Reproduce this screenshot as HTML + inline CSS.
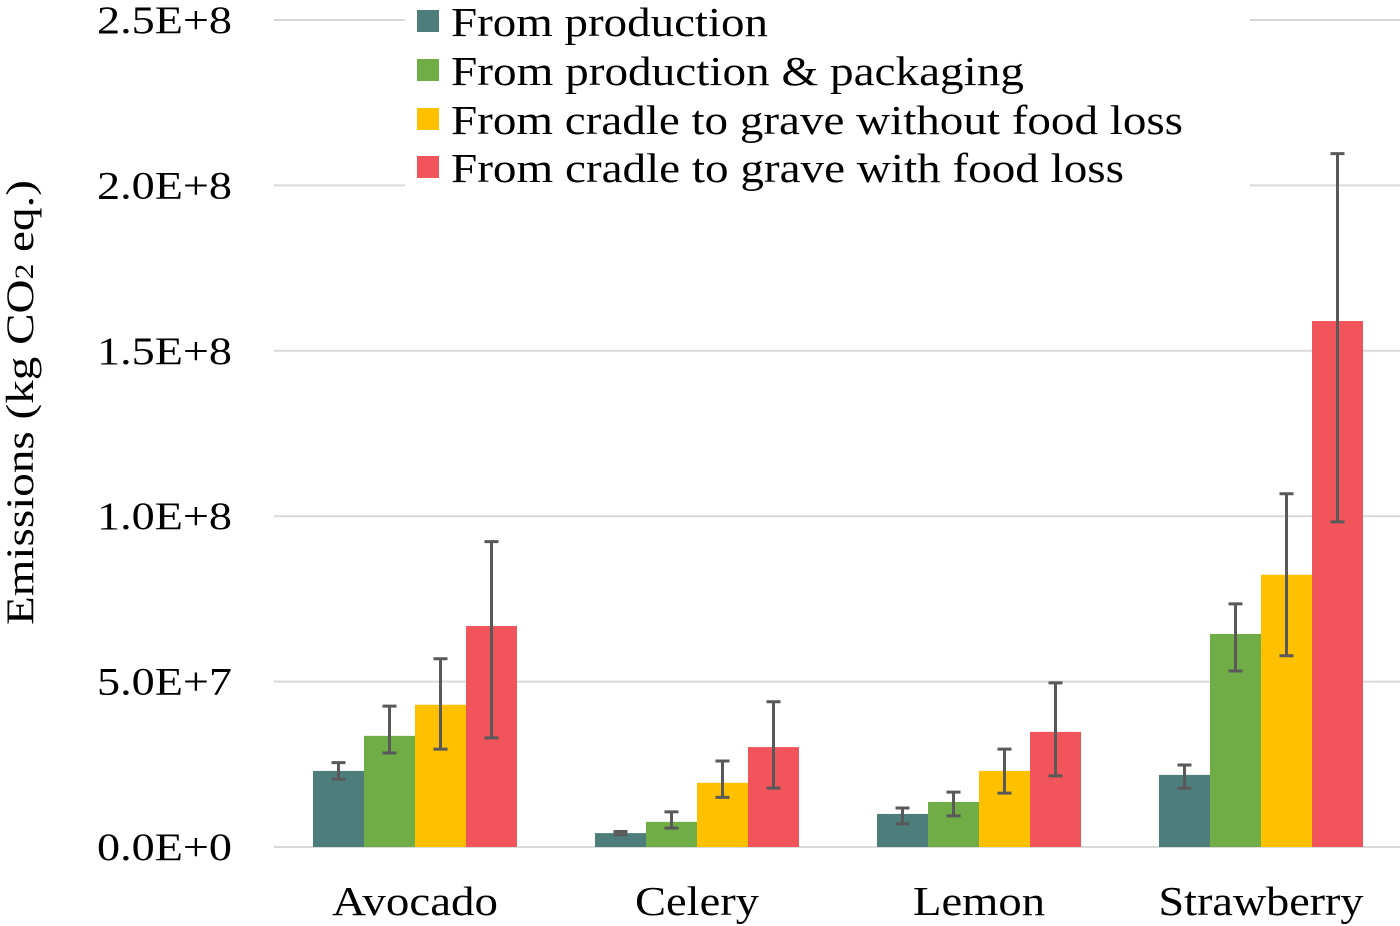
<!DOCTYPE html>
<html><head><meta charset="utf-8"><style>
html,body{margin:0;padding:0;background:#fff;}
svg{display:block;font-family:"Liberation Serif",serif;}
</style></head><body>
<svg id="chart" width="1400" height="926"></svg>
<script>
const categories=["Avocado","Celery","Lemon","Strawberry"];
const seriesNames=["From production","From production & packaging","From cradle to grave without food loss","From cradle to grave with food loss"];
const colors=["#4e7e7c","#70ad47","#ffc000","#f2545b"];
const production=[23,4.2,10,21.8];
const packaging=[33.6,7.6,13.6,64.4];
const noLoss=[43,19.4,23,82.3];
const withLoss=[66.8,30.2,34.8,159];
const errHigh=[[25.5,4.7,11.8,24.8],[42.6,10.6,16.6,73.5],[56.9,26,29.6,106.8],[92.3,43.9,49.6,209.6]];
const errLow=[[20.5,3.7,7,17.8],[28.4,5.7,9.4,53.2],[29.6,15,16.3,57.8],[33,17.8,21.5,98.3]];
const yTicks=[0,50,100,150,200,250];
const yTickLabels=["0.0E+0","5.0E+7","1.0E+8","1.5E+8","2.0E+8","2.5E+8"];
const series=[production,packaging,noLoss,withLoss];
const NS="http://www.w3.org/2000/svg";
const svg=document.getElementById('chart');
const x0=274,catW=282,y0=847,pxPerUnit=(847-20)/250;
const y=v=>y0-v*pxPerUnit;
const xc=i=>x0+catW*(i+0.5);
const bw=51;
const legendW=[317,573,732,673];
const catLabelW=[166,124,132,205];
function mk(t,a,p){const e=document.createElementNS(NS,t);for(const k in a)e.setAttribute(k,a[k]);(p||svg).appendChild(e);return e;}
yTicks.forEach((t,i)=>{
  const g=mk('line',{x1:274,x2:1400,y1:y(t),y2:y(t),stroke:'#d9d9d9','stroke-width':2});
  
  
  const l=mk('text',{x:97,y:y(t)+13,'font-size':39,fill:'#000',textLength:135,lengthAdjust:'spacingAndGlyphs'});
  l.textContent=yTickLabels[i];
  
  
});
const yt=mk('text',{x:-625,y:33,transform:'rotate(-90)','font-size':39,textLength:445,lengthAdjust:'spacingAndGlyphs'});
yt.innerHTML='Emissions (kg CO<tspan font-size="26">2</tspan> eq.)';


categories.forEach((c,i)=>{
  series.forEach((s,j)=>{
    const bx=xc(i)-2*bw+j*bw;
    const r=mk('rect',{x:bx,y:y(s[i]),width:bw,height:y0-y(s[i]),fill:colors[j]});
    
    
    const cx=bx+bw/2,t=y(errHigh[j][i]),b=y(errLow[j][i]);
    const e=mk('path',{d:`M${cx},${t}V${b}M${cx-7},${t}H${cx+7}M${cx-7},${b}H${cx+7}`,stroke:'#595959','stroke-width':3,fill:'none'});
    
    
  });
  const l=mk('text',{x:xc(i)-catLabelW[i]/2,y:915,'font-size':41,textLength:catLabelW[i],lengthAdjust:'spacingAndGlyphs'});
  l.textContent=c;
  
  
});
const lg=mk('g',{});


mk('rect',{x:405,y:0,width:845,height:195,fill:'#fff'},lg);
const ly=[22,71,120,168];
seriesNames.forEach((n,j)=>{
  const s=mk('rect',{x:417,y:ly[j]-12,width:22,height:22,fill:colors[j]},lg);
  
  
  const t=mk('text',{x:451,y:ly[j]+14,'font-size':41,textLength:legendW[j],lengthAdjust:'spacingAndGlyphs'},lg);
  t.textContent=n;
  
  
});
</script>
</body></html>
